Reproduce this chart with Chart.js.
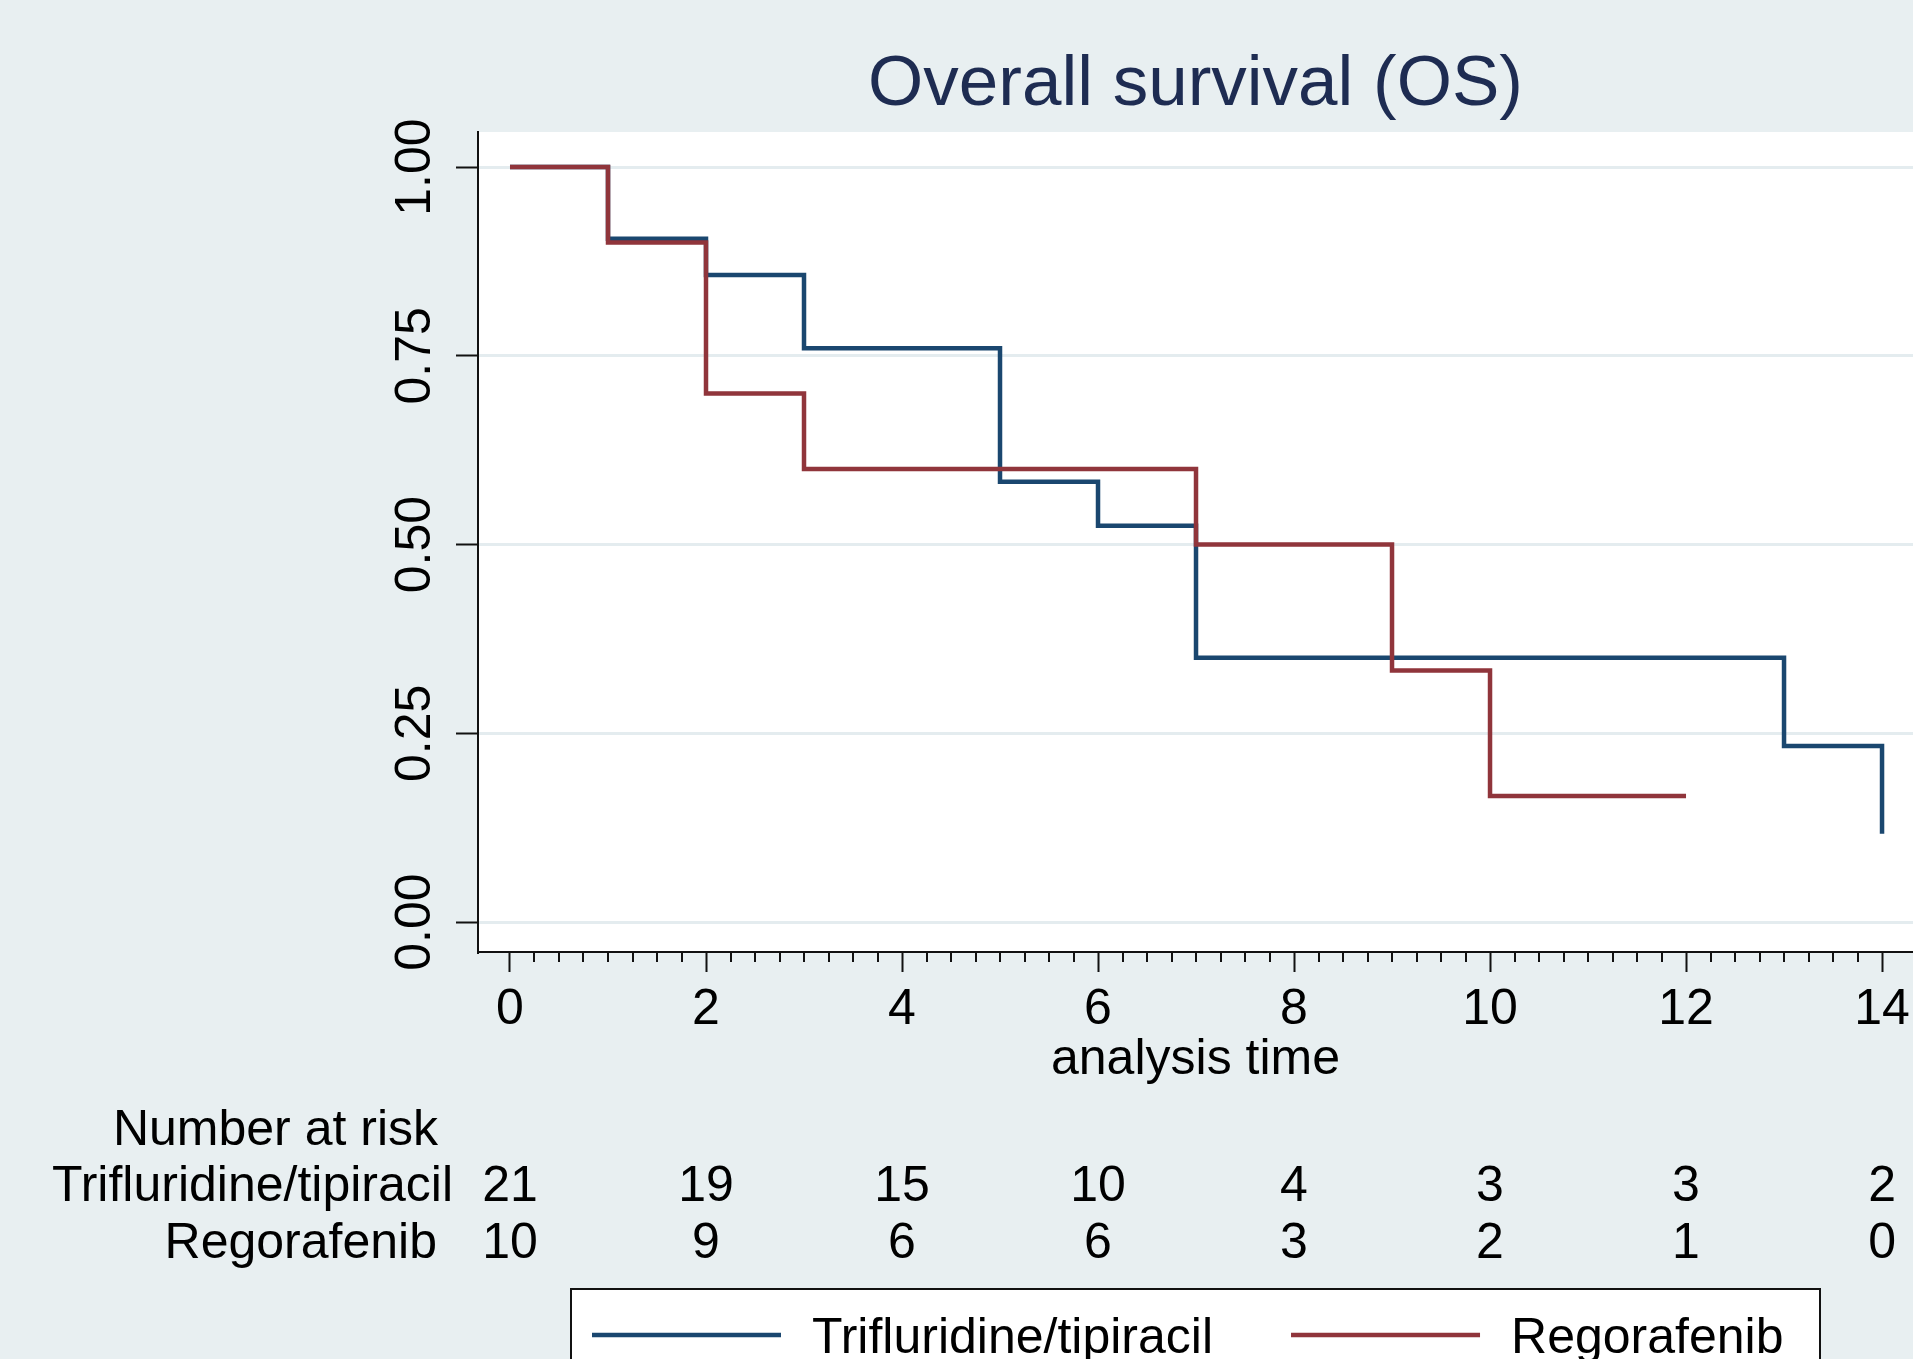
<!DOCTYPE html>
<html>
<head>
<meta charset="UTF-8">
<title>Overall survival (OS)</title>
<script src="https://cdn.jsdelivr.net/npm/chart.js@4.4.1/dist/chart.umd.min.js"></script>
<style>
  html, body { margin: 0; padding: 0; background: #e8eff1; }
  #wrap { width: 1913px; height: 1359px; overflow: hidden; }
</style>
</head>
<body>
<div id="wrap"><canvas id="km" width="1913" height="1359"></canvas></div>
<script>
// Kaplan-Meier steps (time, survival)
var triTimes = [0, 1, 2, 3, 5, 6, 7, 13, 14];
var triSurv  = [1, 0.905, 0.857, 0.76, 0.583, 0.525, 0.35, 0.233, 0.117];
var regTimes = [0, 1, 2, 3, 7, 9, 10, 12];
var regSurv  = [1, 0.9, 0.7, 0.6, 0.5, 0.333, 0.167, 0.167];

// number at risk table
var riskTimes = [0, 2, 4, 6, 8, 10, 12, 14];
var riskTri   = [21, 19, 15, 10, 4, 3, 3, 2];
var riskReg   = [10, 9, 6, 6, 3, 2, 1, 0];

var groupNames = ['Trifluridine/tipiracil', 'Regorafenib'];
var xTicks = [0, 2, 4, 6, 8, 10, 12, 14];
var yTicks = [0, 0.25, 0.5, 0.75, 1];
var minorStep = 0.25;

var FONT = '"Liberation Sans", Arial, sans-serif';
var BG = '#e8eff1';

function toPoints(times, vals) {
  return times.map(function(t, i) { return { x: t, y: vals[i] }; });
}

// backgrounds, minor ticks, risk table and legend box
var decorations = {
  id: 'decorations',
  beforeDraw: function(chart) {
    var ctx = chart.ctx, a = chart.chartArea;
    ctx.save();
    ctx.fillStyle = BG;
    ctx.fillRect(0, 0, chart.width, chart.height);
    ctx.fillStyle = '#ffffff';
    ctx.fillRect(a.left, a.top, a.right - a.left, a.bottom - a.top);
    ctx.restore();
  },
  afterDraw: function(chart) {
    var ctx = chart.ctx, xs = chart.scales.x, a = chart.chartArea;
    ctx.save();

    // minor ticks on the time axis
    ctx.strokeStyle = '#111';
    ctx.lineWidth = 2;
    ctx.beginPath();
    for (var t = xTicks[0]; t <= xTicks[xTicks.length - 1]; t += minorStep) {
      if (xTicks.indexOf(t) >= 0) continue;
      var px = Math.round(xs.getPixelForValue(t));
      ctx.moveTo(px, a.bottom);
      ctx.lineTo(px, a.bottom + 10);
    }
    ctx.stroke();

    // number at risk
    ctx.font = '50px ' + FONT;
    ctx.fillStyle = '#000';
    ctx.textBaseline = 'alphabetic';
    ctx.textAlign = 'right';
    ctx.fillText('Number at risk', 438, 1145);
    ctx.fillText(groupNames[0], 453, 1201);
    ctx.fillText(groupNames[1], 437, 1258);
    ctx.textAlign = 'center';
    riskTimes.forEach(function(t, i) {
      var px = xs.getPixelForValue(t);
      ctx.fillText(String(riskTri[i]), px, 1201);
      ctx.fillText(String(riskReg[i]), px, 1258);
    });

    // legend box (runs off the bottom edge like the original)
    ctx.fillStyle = '#ffffff';
    ctx.fillRect(571, 1289, 1249, 120);
    ctx.strokeStyle = '#111';
    ctx.lineWidth = 2;
    ctx.strokeRect(571, 1289, 1249, 120);
    var lx = 592;
    ctx.textAlign = 'left';
    chart.data.datasets.forEach(function(ds) {
      ctx.strokeStyle = ds.borderColor;
      ctx.lineWidth = 4.5;
      ctx.beginPath();
      ctx.moveTo(lx, 1335);
      ctx.lineTo(lx + 189, 1335);
      ctx.stroke();
      lx += 189 + 31;
      ctx.fillStyle = '#000';
      ctx.fillText(ds.label, lx, 1353);
      lx += ctx.measureText(ds.label).width + 78;
    });
    ctx.restore();
  }
};

new Chart(document.getElementById('km'), {
  type: 'line',
  data: {
    datasets: [
      {
        label: groupNames[0],
        data: toPoints(triTimes, triSurv),
        borderColor: '#1a476f',
        borderWidth: 4.5,
        stepped: 'before',
        pointRadius: 0,
        fill: false,
        order: 1
      },
      {
        label: groupNames[1],
        data: toPoints(regTimes, regSurv),
        borderColor: '#90353b',
        borderWidth: 4.5,
        stepped: 'before',
        pointRadius: 0,
        fill: false,
        order: 0
      }
    ]
  },
  options: {
    responsive: false,
    animation: false,
    devicePixelRatio: 1,
    layout: { autoPadding: false, padding: { top: 0, left: 0, right: 0, bottom: 269 } },
    scales: {
      x: {
        type: 'linear',
        min: -0.3265,
        max: 14.316,
        afterBuildTicks: function(s) { s.ticks = xTicks.map(function(v) { return { value: v }; }); },
        afterFit: function(s) {
          s.height = 138;
          s.paddingLeft = 0; s.paddingRight = 0;
        },
        border: { color: '#111', width: 2 },
        grid: { drawOnChartArea: false, tickLength: 20, tickColor: '#111', tickWidth: 2 },
        ticks: { font: { family: FONT, size: 50 }, color: '#000', padding: 8.5, maxRotation: 0, autoSkip: false },
        title: { display: true, text: 'analysis time', color: '#000', font: { family: FONT, size: 50 }, padding: 0 }
      },
      y: {
        type: 'linear',
        min: -0.0397,
        max: 1.0464,
        afterBuildTicks: function(s) { s.ticks = yTicks.map(function(v) { return { value: v }; }); },
        afterFit: function(s) {
          s.width = 478;
          s.paddingTop = 0; s.paddingBottom = 0;
        },
        border: { color: '#111', width: 2 },
        grid: { color: '#e4ecef', lineWidth: 3, tickLength: 22, tickColor: '#111', tickWidth: 2 },
        ticks: {
          font: { family: FONT, size: 50 }, color: '#000',
          minRotation: 90, maxRotation: 90, crossAlign: 'center', padding: -9, autoSkip: false,
          callback: function(v) { return Number(v).toFixed(2); }
        }
      }
    },
    plugins: {
      legend: { display: false },
      tooltip: { enabled: false },
      title: {
        display: true,
        text: 'Overall survival (OS)',
        fullSize: false,
        color: '#1e2c52',
        font: { family: FONT, size: 71, weight: 'normal', lineHeight: 1 },
        padding: { top: 50, bottom: 11 }
      }
    }
  },
  plugins: [decorations]
});
</script>
</body>
</html>
